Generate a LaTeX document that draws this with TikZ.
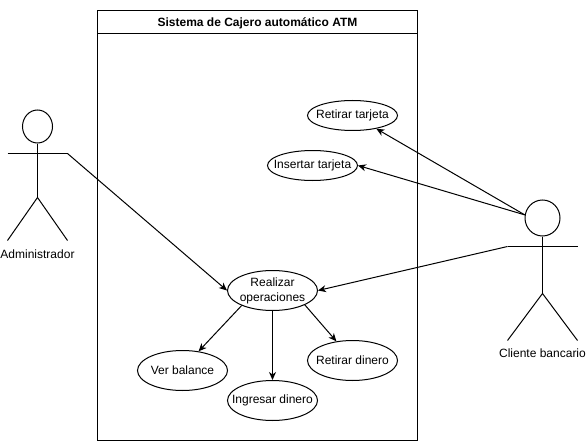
\documentclass[tikz,border=0pt]{standalone}
\usepackage{fontspec}
\setmainfont{Liberation Sans}
\usetikzlibrary{shapes.geometric, arrows.meta}

\tikzset{
	usecase/.style={draw, ellipse, inner sep=-15pt, minimum width=90pt, minimum height=40pt, align=center},
	usecasesmall/.style={usecase, minimum height=30pt},
	head/.style={draw, ellipse, inner sep=0pt},
	label/.style={inner sep=0pt, align=center}
}

\begin{document}
\begin{tikzpicture}[x=1pt, y=-1pt, line width=1pt, >={Stealth[length=8pt, width=7pt, inset=2.5pt]},
	font=\fontsize{12}{15}\selectfont]

	\useasboundingbox (0,0) rectangle (586,441);

% draw system box
	\draw (97.5,10.5) rectangle (417.5,440.5);
	\draw (97.5,33.5) -- (417.5,33.5);
	\node[label, font=\fontsize{12}{15}\selectfont\bfseries] (title) at (257.5,23) {Sistema de Cajero automático ATM};

% draw use cases
	\node[usecasesmall] (retirarTarjeta) at (352.5,115.5) {Retirar tarjeta};
	\node[usecasesmall] (insertarTarjeta) at (312.5,165.5) {Insertar tarjeta};
	\node[usecase] (realizar) at (272.5,290.5) {Realizar\\operaciones};
	\node[usecase] (verBalance) at (182.5,370.5) {Ver balance};
	\node[usecase] (ingresar) at (272.5,400.5) {Ingresar dinero};
	\node[usecase] (retirarDinero) at (352.5,360.5) {Retirar dinero};

% draw Administrador
	\node[head, minimum width=30pt, minimum height=33pt] (adminHead) at (37.5,126.5) {};
	\coordinate (adminHip) at (37.5,197.5);
	\coordinate (adminArmL) at (7.5,153.5);
	\coordinate (adminArmR) at (67.5,153.5);
	\draw (adminHead.south) -- (adminHip);
	\draw (adminArmL) -- (adminArmR);
	\draw (7.5,240.5) -- (adminHip) -- (67.5,240.5);
	\node[label] (adminText) at (37.5,254) {Administrador};

% draw Cliente bancario
	\node[head, minimum width=35pt, minimum height=36pt] (clienteHead) at (542.5,218) {};
	\coordinate (clienteHip) at (542.5,293.5);
	\coordinate (clienteArmL) at (507.5,246.5);
	\coordinate (clienteArmR) at (577.5,246.5);
	\draw (clienteHead.south) -- (clienteHip);
	\draw (clienteArmL) -- (clienteArmR);
	\draw (507.5,340.5) -- (clienteHip) -- (577.5,340.5);
	\node[label] (clienteText) at (542.5,353) {Cliente bancario};

% draw connectors
	\draw[->] (adminArmR) -- (realizar.west);
	\draw[->] (clienteArmL) -- (realizar.east);
	\draw[->] (clienteHead.170) -- (retirarTarjeta.-29);
	\draw[->] (clienteHead.170) -- (insertarTarjeta.east);
	\draw[->] (realizar.206) -- (verBalance.50);
	\draw[->] (realizar.south) -- (ingresar.north);
	\draw[->] (realizar.-24) -- (retirarDinero.130);

\end{tikzpicture}
\end{document}
